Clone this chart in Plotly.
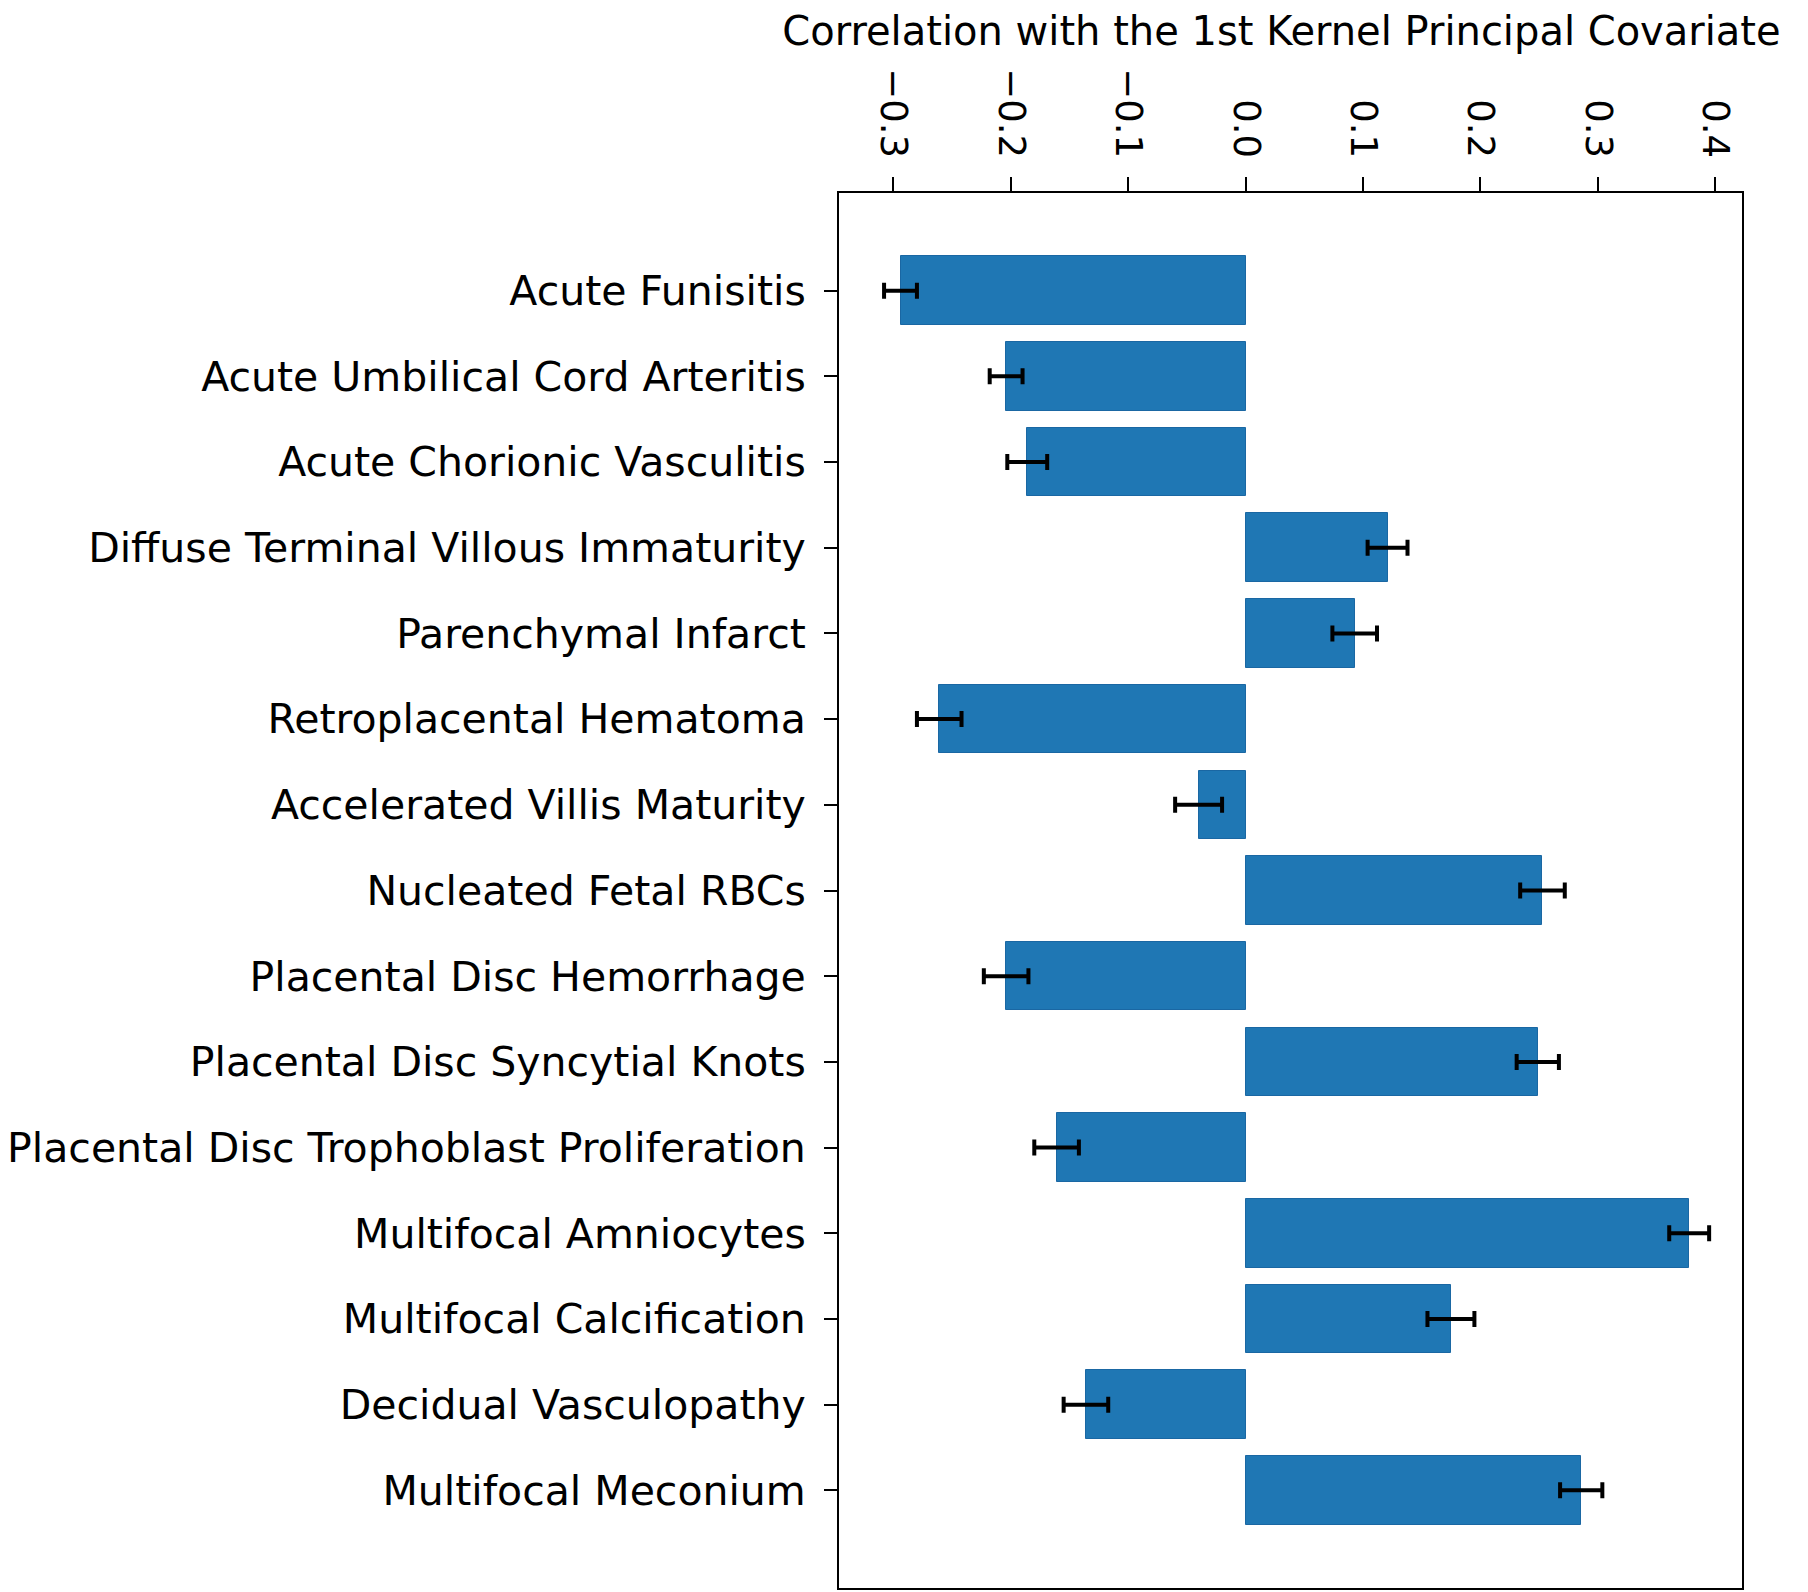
import plotly.graph_objects as go

categories = [
    "Acute Funisitis",
    "Acute Umbilical Cord Arteritis",
    "Acute Chorionic Vasculitis",
    "Diffuse Terminal Villous Immaturity",
    "Parenchymal Infarct",
    "Retroplacental Hematoma",
    "Accelerated Villis Maturity",
    "Nucleated Fetal RBCs",
    "Placental Disc Hemorrhage",
    "Placental Disc Syncytial Knots",
    "Placental Disc Trophoblast Proliferation",
    "Multifocal Amniocytes",
    "Multifocal Calcification",
    "Decidual Vasculopathy",
    "Multifocal Meconium",
]
correlations = [-0.294, -0.204, -0.186, 0.121, 0.093, -0.261, -0.040, 0.253,
                -0.204, 0.249, -0.161, 0.378, 0.175, -0.136, 0.286]
errors = [0.014, 0.014, 0.017, 0.017, 0.019, 0.019, 0.020, 0.019,
          0.019, 0.018, 0.019, 0.017, 0.020, 0.019, 0.018]
x_ticks = [-0.3, -0.2, -0.1, 0.0, 0.1, 0.2, 0.3, 0.4]
x_title = "Correlation with the 1st Kernel Principal Covariate"

positions = list(range(len(categories)))

fig = go.Figure(
    go.Bar(
        x=correlations,
        y=positions,
        orientation="h",
        width=0.8,
        marker=dict(color="#1f77b4", line=dict(color="#1a67a3", width=1)),
        error_x=dict(type="data", array=errors, visible=True,
                     color="black", thickness=4, width=8),
    )
)

family = "DejaVu Sans"
label_font = dict(family=family, size=41, color="black")
xtick_font = dict(family=family, size=37, color="black")
title_font = dict(family=family, size=40, color="black")

fig.update_layout(
    width=1800,
    height=1584,
    margin=dict(l=831, r=66, t=185, b=4, pad=0),
    paper_bgcolor="white",
    plot_bgcolor="white",
    showlegend=False,
    font=dict(family=family, color="black"),
    bargap=0,
    title=dict(text=x_title, font=title_font, xref="paper", x=0.49,
               xanchor="center", yref="container", y=1.0, yanchor="top",
               pad=dict(t=9, b=0, l=0, r=0)),
)

fig.update_xaxes(
    side="top",
    range=[-0.3464, 0.423],
    tickvals=x_ticks,
    tickformat=".1f",
    tickangle=90,
    ticks="outside",
    ticklen=14,
    tickwidth=2,
    tickcolor="black",
    ticklabelstandoff=6,
    showline=True,
    linecolor="black",
    linewidth=2,
    mirror=True,
    showgrid=False,
    zeroline=False,
    tickfont=xtick_font,
    automargin=False,
)

fig.update_yaxes(
    range=[15.14, -1.14],
    tickvals=positions,
    ticktext=categories,
    ticks="outside",
    ticklen=13,
    tickwidth=2,
    tickcolor="black",
    ticklabelstandoff=10,
    showline=True,
    linecolor="black",
    linewidth=2,
    mirror=True,
    showgrid=False,
    zeroline=False,
    tickfont=label_font,
    automargin=False,
)

fig.write_html("out.html")
